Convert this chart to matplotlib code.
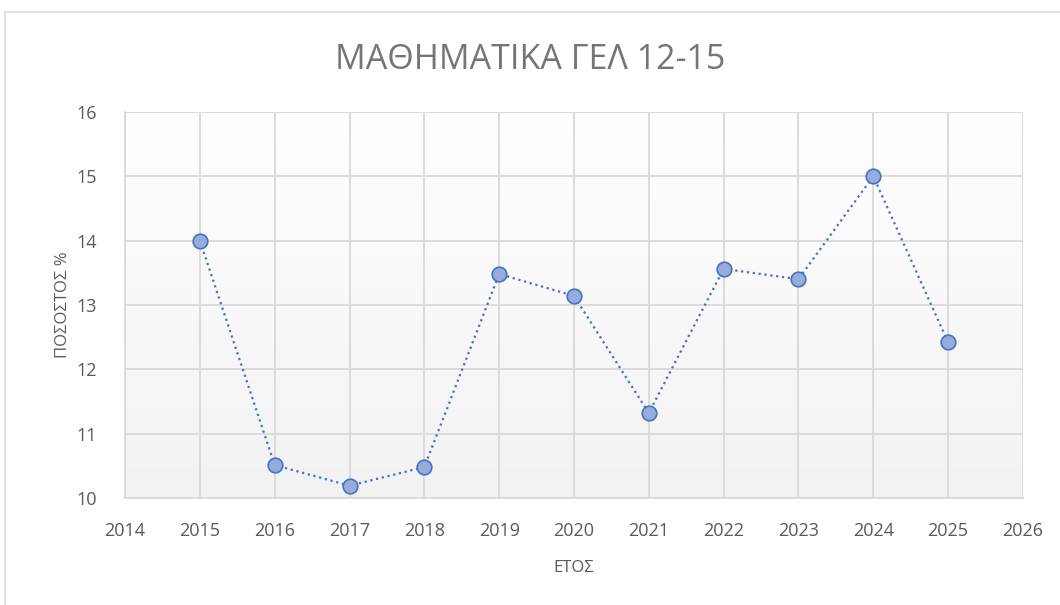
import numpy as np
import matplotlib.pyplot as plt
from matplotlib.patches import Rectangle

# data
years = [2015, 2016, 2017, 2018, 2019, 2020, 2021, 2022, 2023, 2024, 2025]
values = [14.0, 10.51, 10.19, 10.48, 13.48, 13.14, 11.32, 13.56, 13.40, 15.0, 12.42]
x_ticks = list(range(2014, 2027))
y_ticks = [10, 11, 12, 13, 14, 15, 16]

plt.rcParams['font.family'] = ['Open Sans', 'DejaVu Sans']
text_color = '#595959'

fig = plt.figure(figsize=(10.6, 6.05), dpi=100)
ax = fig.add_axes([0.118, 0.177, 0.847, 0.638])

# outer chart frame
fig.patches.append(Rectangle((5 / 1060, -0.05), 1.2, 1 - 12 / 605 + 0.05,
                             transform=fig.transFigure, fill=False,
                             edgecolor='#d9d9d9', linewidth=1.2))

# gradient plot area (white at top -> light grey at bottom)
grad = np.linspace(0, 1, 256).reshape(-1, 1)
ax.imshow(grad, extent=[2014, 2026, 10, 16], aspect='auto', origin='upper',
          cmap=plt.matplotlib.colors.LinearSegmentedColormap.from_list(
              'g', ['#ffffff', '#f2f2f2']), zorder=0)

ax.plot(years, values, linestyle=':', color='#4472c4', linewidth=1.6,
        marker='o', markersize=10.5, markerfacecolor='#97acdb',
        markeredgecolor='#4472c4', markeredgewidth=1.2, zorder=3)

ax.set_xlim(2014, 2026)
ax.set_ylim(10, 16)
ax.set_xticks(x_ticks)
ax.set_yticks(y_ticks)
ax.grid(True, color='#d9d9d9', linewidth=1.3, zorder=1)
ax.set_axisbelow(True)
for s in ['top', 'right']:
    ax.spines[s].set_visible(False)
for s in ['left', 'bottom']:
    ax.spines[s].set_color('#d9d9d9')
    ax.spines[s].set_linewidth(1.3)
ax.tick_params(length=0, labelsize=13, colors=text_color)
ax.tick_params(axis='x', pad=17)
ax.tick_params(axis='y', pad=20)

ax.set_xlabel('ΕΤΟΣ', fontsize=12, color=text_color, labelpad=15)
ax.set_ylabel('ΠΟΣΟΣΤΟΣ %', fontsize=12, color=text_color, labelpad=4)
fig.text(0.5, 1 - 60 / 605, 'ΜΑΘΗΜΑΤΙΚΑ ΓΕΛ 12-15', ha='center', va='center',
         fontsize=24.5, color='#757575')

fig.savefig('out.png', dpi=100)
